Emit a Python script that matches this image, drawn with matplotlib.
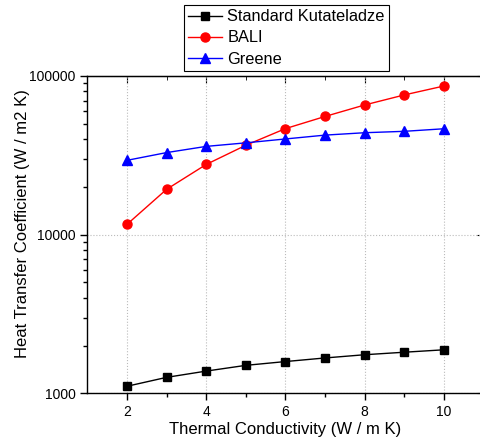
import matplotlib.pyplot as plt
from matplotlib.ticker import LogLocator, NullFormatter, FixedLocator
import numpy as np

plt.rcParams['font.family'] = ['Liberation Sans', 'DejaVu Sans']

# thermal conductivity (W / m K)
k = [2, 3, 4, 5, 6, 7, 8, 9, 10]
# heat transfer coefficient (W / m2 K)
kutateladze = [1107, 1260, 1380, 1500, 1585, 1670, 1750, 1815, 1880]
bali = [11600, 19300, 27700, 36600, 46600, 55600, 65700, 76000, 86500]
greene = [29400, 32900, 36000, 37900, 40100, 42400, 43900, 44800, 46500]

fig = plt.figure(figsize=(4.81, 4.46), dpi=100)
ax = fig.add_axes([0.1815, 0.1182, 0.824, 0.7114])

ax.plot(k, kutateladze, 's-', color='black', lw=1.0, ms=6, label='Standard Kutateladze')
ax.plot(k, bali, 'o-', color='red', lw=1.0, ms=6.5, label='BALI')
ax.plot(k, greene, '^-', color='blue', lw=1.0, ms=7, label='Greene')

ax.set_yscale('log')
ax.set_xlim(1, 11)
ax.set_ylim(1000, 100000)

ax.xaxis.set_major_locator(FixedLocator([2, 4, 6, 8, 10]))
ax.xaxis.set_minor_locator(FixedLocator([3, 5, 7, 9]))
ax.yaxis.set_major_locator(FixedLocator([1000, 10000, 100000]))
ax.yaxis.set_minor_locator(LogLocator(base=10, subs=np.arange(2, 10)))
ax.yaxis.set_minor_formatter(NullFormatter())
ax.set_yticklabels(['1000', '10000', '100000'])

ax.tick_params(which='major', direction='out', length=5, width=1, labelsize=10)
ax.tick_params(which='minor', direction='out', length=3, width=1)
ax.grid(True, which='major', color='#bbbbbb', linestyle=':', lw=0.8)

for s in ax.spines.values():
    s.set_linewidth(1.0)

# mirrored ticks pointing inward on top and right
top = ax.secondary_xaxis('top')
top.xaxis.set_major_locator(FixedLocator([2, 4, 6, 8, 10]))
top.xaxis.set_minor_locator(FixedLocator([3, 5, 7, 9]))
top.tick_params(which='major', direction='in', length=5, labeltop=False)
top.tick_params(which='minor', direction='in', length=3)
right = ax.secondary_yaxis('right')
right.yaxis.set_major_locator(FixedLocator([1000, 10000, 100000]))
right.yaxis.set_minor_locator(LogLocator(base=10, subs=np.arange(2, 10)))
right.yaxis.set_minor_formatter(NullFormatter())
right.tick_params(which='major', direction='in', length=5, labelright=False)
right.tick_params(which='minor', direction='in', length=3)

ax.set_xlabel('Thermal Conductivity (W / m K)', fontsize=12, labelpad=2)
ax.set_ylabel('Heat Transfer Coefficient (W / m2 K)', fontsize=12)
ax.yaxis.set_label_coords(-0.145, 0.535)

leg = ax.legend(loc='lower left', bbox_to_anchor=(0.2435, 1.017), fontsize=11.8,
                frameon=True, fancybox=False, edgecolor='black', framealpha=1,
                borderpad=0.25, labelspacing=0.37, handlelength=2.1,
                handletextpad=0.3, borderaxespad=0)
leg.get_frame().set_linewidth(0.8)

fig.savefig('out.png', dpi=100)
